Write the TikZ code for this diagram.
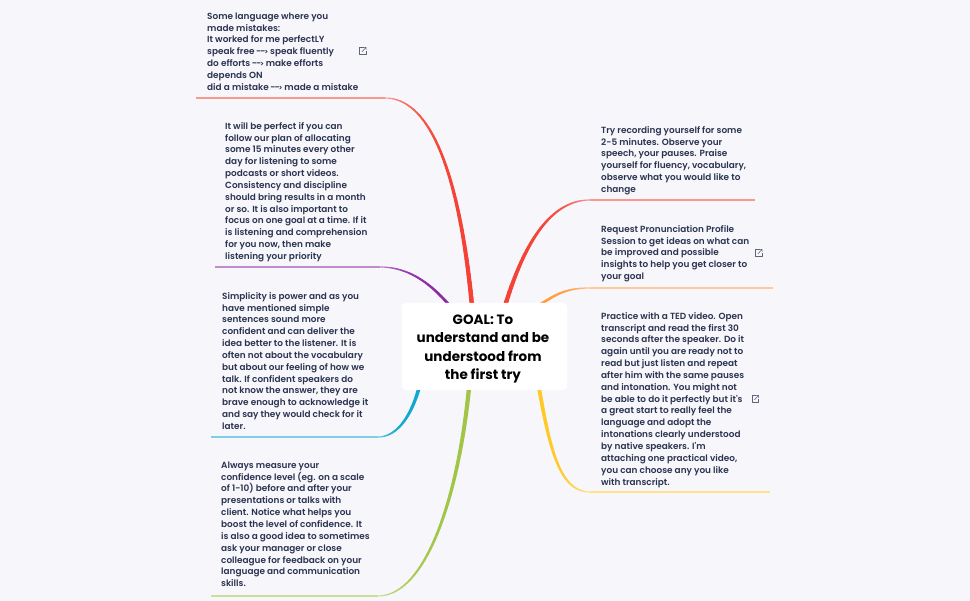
\documentclass[tikz,border=0pt]{standalone}
\usepackage{fontspec}
\setmainfont{Poppins}
\newfontfamily\leaffont{Poppins SemiBold}
\newfontfamily\rootfont{Poppins Bold}
\definecolor{bgc}{HTML}{F7F7FB}
\definecolor{inkc}{HTML}{2A3350}
\definecolor{iconc}{HTML}{5C6478}
\definecolor{redc}{HTML}{F44336}
\definecolor{purplec}{HTML}{8E2CA6}
\definecolor{bluec}{HTML}{0FA9CF}
\definecolor{greenc}{HTML}{A2C548}
\definecolor{yellowc}{HTML}{FFCA28}
\definecolor{orangec}{HTML}{FF9F3F}
\newcommand{\arr}{\kern-.6pt{-}\kern-.9pt{-}\kern-1.1pt{\fontsize{7}{11.85}\selectfont>}\kern-.4pt}
\tikzset{
  leaf/.style={anchor=north west,inner sep=0pt,align=left,text=inkc,font=\leaffont\fontsize{8.9}{11.85}\selectfont},
  rootbox/.style={fill=white,rounded corners=4pt,minimum width=165pt,minimum height=87pt,inner sep=0pt},
  roottextstyle/.style={inner sep=0pt,align=center,text=black,font=\rootfont\fontsize{13.5}{18.2}\selectfont},
  linkicon/.pic={
    \draw[iconc,line width=.55pt,line join=round] (1,-3.6) -- (-3.2,-3.6) -- (-3.2,3.6) -- (3.6,3.6) -- (3.6,-.2);
    \draw[iconc,line width=.55pt] (-.6,.8) -- (3.6,-3.6) (.8,-3.6) -- (3.6,-3.6) -- (3.6,-1);
  }
}
% branch: name, colour, inner end, control, control, outer end, far end of rule, inner width
\newcommand{\branch}[8]{%
  \foreach \i in {0,...,40}{%
    \pgfmathsetmacro\tpos{\i/40}%
    \path (#3) .. controls (#4) and (#5) .. (#6) coordinate[pos=\tpos] (#1p\i);%
  }%
  \foreach \i [remember=\i as \j (initially 0)] in {1,...,40}{%
    \pgfmathsetmacro\lw{#8+(1.1-#8)*\i/40}%
    \pgfmathsetmacro\mx{100-45*(\i/40)^5}%
    \draw[line width=\lw pt,color=#2!\mx!white,line cap=round] (#1p\j) -- (#1p\i);%
  }%
  \draw[line width=1.1pt,color=#2!55!white] (#6) -- (#7);%
}
\begin{document}
\begin{tikzpicture}[x=1pt,y=-1pt]
\useasboundingbox[fill=bgc] (0,0) rectangle (970,601);

\coordinate (a1) at (472,306); \coordinate (e1) at (385,98);  \coordinate (r1) at (196,98);
\coordinate (a2) at (450,306); \coordinate (e2) at (380,267); \coordinate (r2) at (215,267);
\coordinate (a3) at (419,388); \coordinate (e3) at (378,437); \coordinate (r3) at (211,437);
\coordinate (a4) at (469,388); \coordinate (e4) at (378,596); \coordinate (r4) at (211,596);
\coordinate (a5) at (505,306); \coordinate (e5) at (590,200); \coordinate (r5) at (755,200);
\coordinate (a6) at (538,306); \coordinate (e6) at (590,288); \coordinate (r6) at (773,288);
\coordinate (a7) at (539,388); \coordinate (e7) at (590,492); \coordinate (r7) at (770,492);

\branch{b1}{redc}{a1}{462,200}{438,98}{e1}{r1}{4.6}
\branch{b2}{purplec}{a2}{432,285}{410,267}{e2}{r2}{3}
\branch{b3}{bluec}{a3}{410,420}{395,437}{e3}{r3}{3.6}
\branch{b4}{greenc}{a4}{458,500}{425,596}{e4}{r4}{4.4}
\branch{b5}{redc}{a5}{525,240}{552,200}{e5}{r5}{4.4}
\branch{b6}{orangec}{a6}{555,295}{565,288}{e6}{r6}{3}
\branch{b7}{yellowc}{a7}{550,450}{560,492}{e7}{r7}{4}

\node[rootbox] (root) at (484.5,346.5) {};
\node[roottextstyle] (roottext) at (483,349) {GOAL: To\\understand and be\\understood from\\the first try};

\node[leaf] (t1) at (207,12.4) {Some language where you\\made mistakes:\\It worked for me perfectLY\\speak free \arr{} speak fluently\\do efforts \arr{} make efforts\\depends ON\\did a mistake \arr{} made a mistake};
\node[leaf] (t2) at (225,122) {It will be perfect if you can\\follow our plan of allocating\\some 15 minutes every other\\day for listening to some\\podcasts or short videos.\\Consistency and discipline\\should bring results in a month\\or so. It is also important to\\focus on one goal at a time. If it\\is listening and comprehension\\for you now, then make\\listening your priority};
\node[leaf] (t3) at (222,292) {Simplicity is power and as you\\have mentioned simple\\sentences sound more\\confident and can deliver the\\idea better to the listener. It is\\often not about the vocabulary\\but about our feeling of how we\\talk. If confident speakers do\\not know the answer, they are\\brave enough to acknowledge it\\and say they would check for it\\later.};
\node[leaf] (t4) at (221,461.5) {Always measure your\\confidence level (eg. on a scale\\of 1-10) before and after your\\presentations or talks with\\client. Notice what helps you\\boost the level of confidence. It\\is also a good idea to sometimes\\ask your manager or close\\colleague for feedback on your\\language and communication\\skills.};
\node[leaf] (t5) at (601,126) {Try recording yourself for some\\2-5 minutes. Observe your\\speech, your pauses. Praise\\yourself for fluency, vocabulary,\\observe what you would like to\\change};
\node[leaf] (t6) at (601,225) {Request Pronunciation Profile\\Session to get ideas on what can\\be improved and possible\\insights to help you get closer to\\your goal};
\node[leaf] (t7) at (601,312) {Practice with a TED video. Open\\transcript and read the first 30\\seconds after the speaker. Do it\\again until you are ready not to\\read but just listen and repeat\\after him with the same pauses\\and intonation. You might not\\be able to do it perfectly but it's\\a great start to really feel the\\language and adopt the\\intonations clearly understood\\by native speakers. I'm\\attaching one practical video,\\you can choose any you like\\with transcript.};

\pic at (362.5,51) {linkicon};
\pic at (758.5,253) {linkicon};
\pic at (755,399) {linkicon};
\end{tikzpicture}
\end{document}
